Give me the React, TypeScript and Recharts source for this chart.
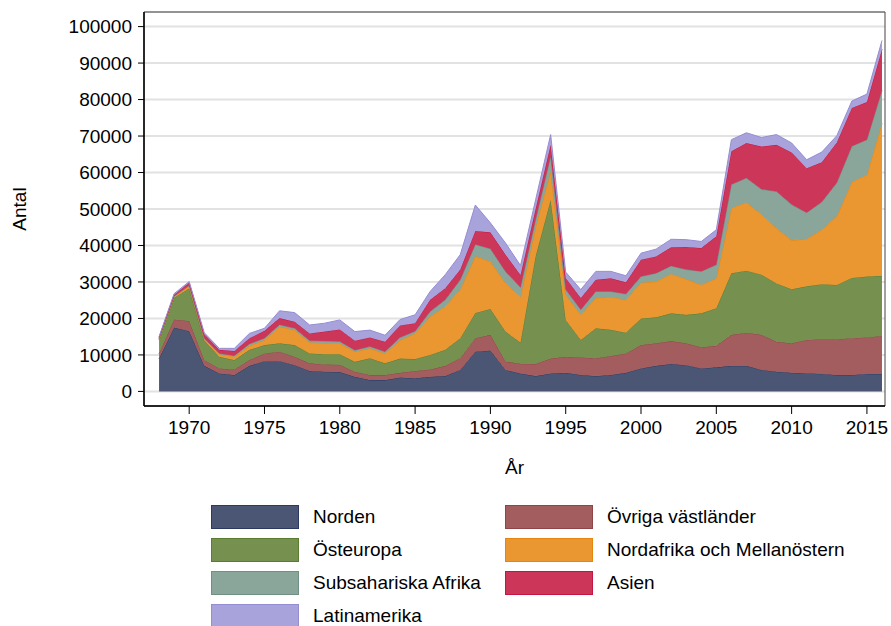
import React from 'react';
import { AreaChart, Area, XAxis, YAxis, CartesianGrid, ReferenceArea } from 'recharts';

const FONT = '"Liberation Sans", Arial, Helvetica, sans-serif';

const years = [
  1968, 1969, 1970, 1971, 1972, 1973, 1974, 1975, 1976, 1977,
  1978, 1979, 1980, 1981, 1982, 1983, 1984, 1985, 1986, 1987,
  1988, 1989, 1990, 1991, 1992, 1993, 1994, 1995, 1996, 1997,
  1998, 1999, 2000, 2001, 2002, 2003, 2004, 2005, 2006, 2007,
  2008, 2009, 2010, 2011, 2012, 2013, 2014, 2015, 2016,
];

const norden = [
  9000, 17500, 16500, 7000, 4900, 4500, 7000, 8300, 8300, 7200,
  5600, 5400, 5300, 4000, 3100, 3100, 3800, 3600, 4000, 4200,
  5900, 10900, 11200, 5900, 4900, 4200, 4900, 5100, 4500, 4200,
  4500, 5100, 6300, 7000, 7500, 7200, 6300, 6600, 7000, 7000,
  5900, 5400, 5100, 5000, 4800, 4500, 4500, 4800, 4800,
];
const ovriga = [
  1400, 2200, 2800, 1600, 1400, 1500, 1600, 2100, 2600, 2300,
  2100, 2000, 2000, 1400, 1400, 1400, 1300, 2000, 2000, 2800,
  3200, 3700, 4300, 2300, 2700, 3300, 4100, 4400, 4800, 4900,
  5200, 5300, 6400, 6200, 6300, 6000, 5800, 5900, 8500, 9100,
  9600, 8200, 8100, 9100, 9500, 9800, 10100, 10000, 10400,
];
const osteuropa = [
  3700, 6000, 8900, 5400, 3200, 2600, 2800, 2300, 2300, 3200,
  2700, 2800, 2900, 2700, 4600, 3200, 3900, 3300, 4000, 4400,
  5500, 6900, 7100, 8200, 5800, 29500, 43500, 10100, 4800, 8200,
  7200, 5700, 7300, 7100, 7600, 7800, 9300, 10300, 16900, 17000,
  16500, 16000, 14800, 14700, 15100, 14900, 16500, 16700, 16500,
];
const nordafrika = [
  300, 300, 700, 500, 700, 900, 1100, 1400, 4600, 4100,
  3000, 3100, 3000, 2800, 2700, 2700, 5000, 7000, 10500, 11900,
  13300, 15600, 13000, 13300, 12500, 8000, 7800, 6900, 6900, 8300,
  9000, 9000, 9800, 9800, 10800, 9800, 7800, 8200, 17900, 18700,
  16500, 15100, 13400, 13000, 14900, 18800, 26300, 27900, 41800,
];
const subsahara = [
  100, 100, 100, 100, 200, 300, 500, 500, 500, 500,
  500, 500, 500, 400, 500, 500, 800, 600, 1400, 1800,
  2700, 3200, 3500, 3200, 2600, 2000, 4100, 1400, 1400, 1800,
  1500, 1600, 1700, 2300, 2200, 2600, 3700, 3700, 6400, 6700,
  6900, 10100, 9800, 7200, 7600, 9200, 9800, 9600, 9000,
];
const asien = [
  300, 400, 800, 1100, 1000, 1300, 1600, 2000, 1800, 1800,
  2000, 2600, 3300, 2600, 2500, 2700, 3300, 2200, 3200, 3200,
  2800, 3700, 4500, 4600, 3400, 3000, 3200, 3200, 3200, 3200,
  3600, 3200, 4600, 4600, 5100, 6200, 6400, 7800, 9100, 9600,
  11700, 12800, 14300, 12200, 10900, 11000, 10500, 10300, 11300,
];
const latinamerika = [
  200, 300, 300, 400, 400, 700, 1300, 700, 2000, 2500,
  2300, 2300, 2600, 2500, 2000, 1800, 1600, 2300, 2300, 3700,
  4100, 7100, 2600, 3200, 2600, 2500, 2800, 1600, 2300, 2300,
  1900, 1800, 1800, 2000, 2200, 2000, 1800, 1800, 3200, 2800,
  2500, 2800, 2600, 2300, 2800, 1900, 1900, 2200, 2400,
];

const xTicks = [1970, 1975, 1980, 1985, 1990, 1995, 2000, 2005, 2010, 2015];
const yTicks = [0, 10000, 20000, 30000, 40000, 50000, 60000, 70000, 80000, 90000, 100000];

const series = [
  { key: 'norden', name: 'Norden', values: norden, fill: '#4b5674', stroke: '#2c3a62' },
  { key: 'ovriga', name: 'Övriga västländer', values: ovriga, fill: '#a45d5f', stroke: '#8f4548' },
  { key: 'osteuropa', name: 'Östeuropa', values: osteuropa, fill: '#76904f', stroke: '#5b7d30' },
  { key: 'nordafrika', name: 'Nordafrika och Mellanöstern', values: nordafrika, fill: '#ea9631', stroke: '#e5860f' },
  { key: 'subsahara', name: 'Subsahariska Afrika', values: subsahara, fill: '#8aa59a', stroke: '#6f9083' },
  { key: 'asien', name: 'Asien', values: asien, fill: '#cc3659', stroke: '#c41543' },
  { key: 'latinamerika', name: 'Latinamerika', values: latinamerika, fill: '#a9a3dc', stroke: '#958dd3' },
];

const data = years.map((year, i) => {
  const row: Record<string, number> = { year };
  series.forEach((s) => {
    row[s.key] = s.values[i];
  });
  return row;
});

const tickStyle = { fill: '#000', fontSize: 19, fontFamily: FONT };

export default function App() {
  return (
    <div style={{ position: 'absolute', left: 0, top: 0, width: 891, height: 626, background: '#fff', fontFamily: FONT }}>
      <AreaChart width={891} height={626} data={data} margin={{ top: 12, right: 6, left: 0, bottom: 180 }}>
        <CartesianGrid vertical={false} stroke="#e2e2e2" strokeWidth={2} />
        <XAxis
          dataKey="year"
          type="number"
          domain={[1967, 2016.2]}
          ticks={xTicks}
          interval={0}
          allowDataOverflow
          height={40}
          tickSize={8}
          tickMargin={7}
          axisLine={{ stroke: '#000', strokeWidth: 1.5 }}
          tickLine={{ stroke: '#000' }}
          tick={tickStyle}
          label={{ value: 'År', position: 'bottom', offset: 15, style: { fill: '#000', fontSize: 19, fontFamily: FONT } }}
        />
        <YAxis
          type="number"
          domain={[-4000, 104000]}
          ticks={yTicks}
          interval={0}
          allowDataOverflow
          width={144}
          tickSize={6}
          tickMargin={6}
          axisLine={{ stroke: '#000', strokeWidth: 1.5 }}
          tickLine={{ stroke: '#000' }}
          tick={tickStyle}
          label={{
            content: () => (
              <text
                x={19}
                y={209}
                transform="rotate(-90 19 209)"
                textAnchor="middle"
                dominantBaseline="central"
                style={{ fill: '#000', fontSize: 19, fontFamily: FONT }}
              >
                Antal
              </text>
            ),
          }}
        />
        {series.map((s) => (
          <Area
            key={s.key}
            type="linear"
            dataKey={s.key}
            name={s.name}
            stackId="1"
            fill={s.fill}
            fillOpacity={1}
            stroke={s.stroke}
            strokeWidth={1}
            dot={false}
            activeDot={false}
            isAnimationActive={false}
          />
        ))}
        <ReferenceArea
          x1={1967}
          x2={2016.2}
          y1={-4000}
          y2={104000}
          fill="none"
          stroke="#444"
          strokeWidth={1}
          ifOverflow="visible"
        />
      </AreaChart>

      {series.map((s, i) => {
        const col = i % 2;
        const row = Math.floor(i / 2);
        const left = col === 0 ? 211 : 505;
        const top = 505 + row * 33;
        return (
          <div key={s.key} style={{ position: 'absolute', left, top, height: 24, display: 'flex', alignItems: 'center' }}>
            <div
              style={{
                width: 86,
                height: 22,
                background: s.fill,
                border: `1px solid ${s.stroke}`,
              }}
            />
            <span style={{ marginLeft: 14, fontSize: 19, color: '#000', whiteSpace: 'nowrap' }}>{s.name}</span>
          </div>
        );
      })}
    </div>
  );
}
